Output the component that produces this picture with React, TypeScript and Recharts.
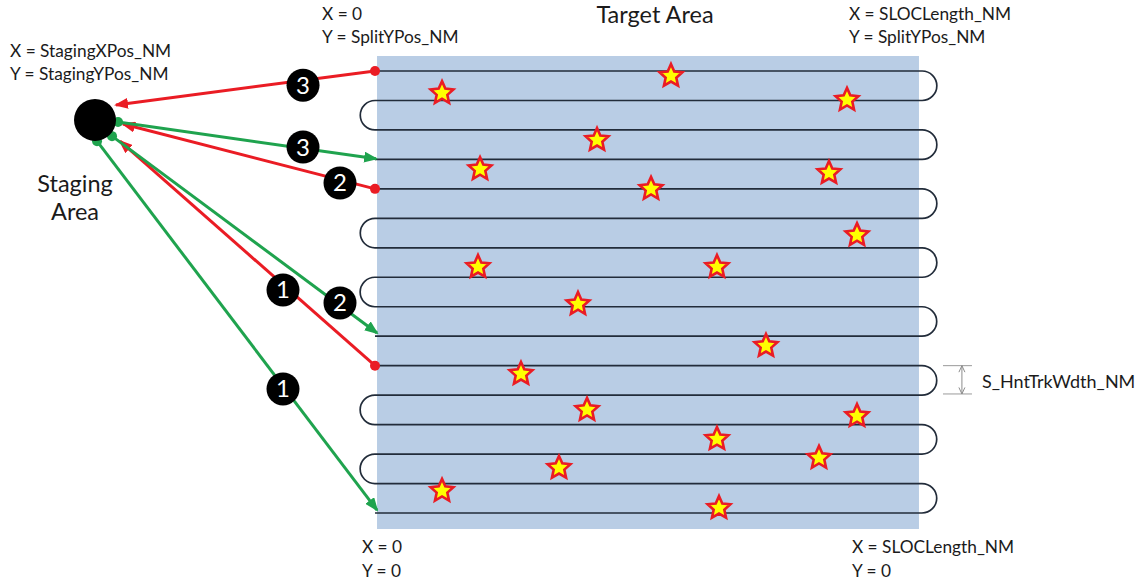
import React from 'react';
import { ComposedChart, XAxis, YAxis, Line, Scatter, ReferenceArea, ReferenceLine, ReferenceDot } from 'recharts';

// x: distance along the track (0 = left edge, 100 = SLOCLength), y: track index (0 = bottom track)
const xDomain = [-68.56, 140.59];
const yDomain = [-2.308, 17.41];

const targetArea = { x1: 0.37, x2: 99.45, y1: -0.54, y2: 15.51 };

// serpentine search tracks, one per aircraft
const trackAc1 = [
  { x: 0, y: 0 }, { x: 100, y: 0 }, { x: 100, y: 1 }, { x: 0, y: 1 },
  { x: 0, y: 2 }, { x: 100, y: 2 }, { x: 100, y: 3 }, { x: 0, y: 3 },
  { x: 0, y: 4 }, { x: 100, y: 4 }, { x: 100, y: 5 }, { x: 0, y: 5 },
];
const trackAc2 = [
  { x: 0, y: 6 }, { x: 100, y: 6 }, { x: 100, y: 7 }, { x: 0, y: 7 },
  { x: 0, y: 8 }, { x: 100, y: 8 }, { x: 100, y: 9 }, { x: 0, y: 9 },
  { x: 0, y: 10 }, { x: 100, y: 10 }, { x: 100, y: 11 }, { x: 0, y: 11 },
];
const trackAc3 = [
  { x: 0, y: 12 }, { x: 100, y: 12 }, { x: 100, y: 13 }, { x: 0, y: 13 },
  { x: 0, y: 14 }, { x: 100, y: 14 }, { x: 100, y: 15 }, { x: 0, y: 15 },
];

const targets = [
  { x: 12.25, y: 14.25 }, { x: 54.11, y: 14.83 }, { x: 86.29, y: 14.02 },
  { x: 40.59, y: 12.66 }, { x: 19.2, y: 11.67 }, { x: 50.46, y: 11.0 },
  { x: 83.0, y: 11.54 }, { x: 88.12, y: 9.43 }, { x: 18.83, y: 8.35 },
  { x: 62.52, y: 8.35 }, { x: 37.11, y: 7.09 }, { x: 71.48, y: 5.67 },
  { x: 26.69, y: 4.72 }, { x: 38.76, y: 3.5 }, { x: 88.12, y: 3.29 },
  { x: 62.52, y: 2.51 }, { x: 81.17, y: 1.87 }, { x: 33.64, y: 1.53 },
  { x: 12.25, y: 0.75 }, { x: 62.89, y: 0.17 },
];

const staging = { x: -51.19, y: 13.34 };

// transit legs: outbound (staging -> track start), return (track end -> staging)
const outbound = [
  [{ x: -50.82, y: 12.62 }, { x: 0.37, y: 0.1 }],
  [{ x: -48.08, y: 12.79 }, { x: 0.37, y: 6.11 }],
  [{ x: -46.98, y: 13.27 }, { x: 0.2, y: 12.02 }],
];
const inbound = [
  [{ x: 0, y: 5 }, { x: -46.62, y: 12.62 }],
  [{ x: 0, y: 11 }, { x: -46.07, y: 13.2 }],
  [{ x: 0, y: 15 }, { x: -47.35, y: 13.85 }],
];

const badges = [
  { x: -16.82, y: 4.21, n: '1' },
  { x: -16.82, y: 7.57, n: '1' },
  { x: -6.4, y: 7.13, n: '2' },
  { x: -6.4, y: 11.2, n: '2' },
  { x: -13.16, y: 12.42, n: '3' },
  { x: -13.16, y: 14.52, n: '3' },
];

const cornerLabels = [
  { x: -9.69, y: 16.73, text: 'X = 0' },
  { x: -9.69, y: 15.95, text: 'Y = SplitYPos_NM' },
  { x: 86.65, y: 16.73, text: 'X = SLOCLength_NM' },
  { x: 86.65, y: 15.95, text: 'Y = SplitYPos_NM' },
  { x: -66.73, y: 15.47, text: 'X = StagingXPos_NM' },
  { x: -66.73, y: 14.69, text: 'Y = StagingYPos_NM' },
  { x: -2.38, y: -1.357, text: 'X = 0' },
  { x: -2.38, y: -2.172, text: 'Y = 0' },
  { x: 87.2, y: -1.357, text: 'X = SLOCLength_NM' },
  { x: 87.2, y: -2.172, text: 'Y = 0' },
];
const dimLabels = [{ x: 110.97, y: 4.24, text: 'S_HntTrkWdth_NM' }];
const titleLabels = [{ x: 51.19, y: 16.63, text: 'Target Area' }];
const stagingLabels = [
  { x: -54.84, y: 10.89, text: 'Staging' },
  { x: -54.84, y: 9.94, text: 'Area' },
];

// track width dimension marker
const dimTicks = [5, 4.04];
const dimX = { from: 103.84, to: 109.14, arrow: 107.3 };

const RED = '#ea1c24';
const GREEN = '#1fa34e';
const TRACK = '#222c3a';
const FONT = 'Lato, "Open Sans", sans-serif';

// straight legs, semicircular turn where consecutive points share x
function serpentine(context: any) {
  let px = 0;
  let py = 0;
  let dx = 0;
  let n = 0;
  return {
    areaStart() {},
    areaEnd() {},
    lineStart() { n = 0; dx = 0; },
    lineEnd() {},
    point(x: number, y: number) {
      x = +x; y = +y;
      if (n === 0) {
        context.moveTo(x, y);
      } else if (Math.abs(x - px) < 0.5 && dx !== 0) {
        const r = Math.abs(y - py) / 2;
        const a0 = py < y ? -Math.PI / 2 : Math.PI / 2;
        context.arc(x, (y + py) / 2, r, a0, -a0, (dx > 0) === (py > y));
      } else {
        context.lineTo(x, y);
        dx = x - px;
      }
      px = x; py = y; n++;
    },
  };
}

const Star = (props: any) => {
  const { cx, cy } = props;
  const pts: string[] = [];
  for (let i = 0; i < 10; i++) {
    const r = i % 2 === 0 ? 12 : 5.6;
    const a = -Math.PI / 2 + (i * Math.PI) / 5;
    pts.push(`${cx + r * Math.cos(a)},${cy + r * Math.sin(a)}`);
  }
  return <polygon points={pts.join(' ')} fill="#ffff00" stroke={RED} strokeWidth={2.6} strokeLinejoin="miter" />;
};

const Badge = (props: any) => (
  <g>
    <circle cx={props.cx} cy={props.cy} r={16.5} fill="#000" />
    <text x={props.cx} y={props.cy + 8.5} textAnchor="middle" fontSize={24} fill="#fff" fontFamily={FONT}>
      {props.payload.n}
    </text>
  </g>
);

const textShape = (size: number, anchor: string) => (props: any) => (
  <text x={props.cx} y={props.cy} fontSize={size} textAnchor={anchor} fill="#1b1b1b" fontFamily={FONT}>
    {props.payload.text}
  </text>
);

const startDot = (color: string) => (p: any) =>
  p.index === 0 ? <circle key={`d${p.index}`} cx={p.cx} cy={p.cy} r={5} fill={color} /> : <g key={`d${p.index}`} />;

export default function App() {
  return (
    <div style={{ width: 1144, height: 581, background: '#fff' }}>
      <style>{'body{margin:0}'}</style>
      <ComposedChart width={1144} height={581} margin={{ top: 0, right: 0, bottom: 0, left: 0 }}>
        <defs>
          <marker id="headRed" viewBox="0 0 14 11" refX={12} refY={5.5} markerWidth={14} markerHeight={11} markerUnits="userSpaceOnUse" orient="auto">
            <path d="M0,0 L14,5.5 L0,11 Z" fill={RED} />
          </marker>
          <marker id="headGreen" viewBox="0 0 14 11" refX={12} refY={5.5} markerWidth={14} markerHeight={11} markerUnits="userSpaceOnUse" orient="auto">
            <path d="M0,0 L14,5.5 L0,11 Z" fill={GREEN} />
          </marker>
          <marker id="headDim" viewBox="0 0 8 8" refX={7.5} refY={4} markerWidth={8} markerHeight={8} markerUnits="userSpaceOnUse" orient="auto-start-reverse">
            <path d="M1,1 L7.5,4 L1,7" fill="none" stroke="#8c8c8c" strokeWidth={1} />
          </marker>
        </defs>
        <XAxis type="number" dataKey="x" domain={xDomain} allowDataOverflow hide />
        <YAxis type="number" dataKey="y" domain={yDomain} allowDataOverflow hide />

        <ReferenceArea x1={targetArea.x1} x2={targetArea.x2} y1={targetArea.y1} y2={targetArea.y2} fill="#b9cde5" fillOpacity={1} stroke="none" />

        {[trackAc1, trackAc2, trackAc3].map((t, i) => (
          <Line key={`trk${i}`} data={t} dataKey="y" type={serpentine as any} stroke={TRACK} strokeWidth={1.7} dot={false} activeDot={false} isAnimationActive={false} />
        ))}

        {dimTicks.map((y, i) => (
          <ReferenceLine key={`tick${i}`} segment={[{ x: dimX.from, y }, { x: dimX.to, y }]} stroke="#9a9a9a" strokeWidth={1} />
        ))}
        <Line data={[{ x: dimX.arrow, y: dimTicks[0] }, { x: dimX.arrow, y: dimTicks[1] }]} dataKey="y" type="linear" stroke="#8c8c8c" strokeWidth={1} dot={false} activeDot={false} markerStart="url(#headDim)" markerEnd="url(#headDim)" isAnimationActive={false} />

        <Scatter data={targets} shape={Star} isAnimationActive={false} />

        {inbound.map((leg, i) => (
          <Line key={`in${i}`} data={leg} dataKey="y" type="linear" stroke={RED} strokeWidth={3} dot={startDot(RED)} activeDot={false} markerEnd="url(#headRed)" isAnimationActive={false} />
        ))}
        {outbound.map((leg, i) => (
          <Line key={`out${i}`} data={leg} dataKey="y" type="linear" stroke={GREEN} strokeWidth={3} dot={startDot(GREEN)} activeDot={false} markerEnd="url(#headGreen)" isAnimationActive={false} />
        ))}

        <ReferenceDot x={staging.x} y={staging.y} r={21} fill="#000" stroke="none" />

        <Scatter data={badges} shape={Badge} isAnimationActive={false} />

        <Scatter data={cornerLabels} shape={textShape(17.3, 'start')} isAnimationActive={false} />
        <Scatter data={dimLabels} shape={textShape(18, 'start')} isAnimationActive={false} />
        <Scatter data={titleLabels} shape={textShape(23.5, 'middle')} isAnimationActive={false} />
        <Scatter data={stagingLabels} shape={textShape(23.5, 'middle')} isAnimationActive={false} />
      </ComposedChart>
    </div>
  );
}
